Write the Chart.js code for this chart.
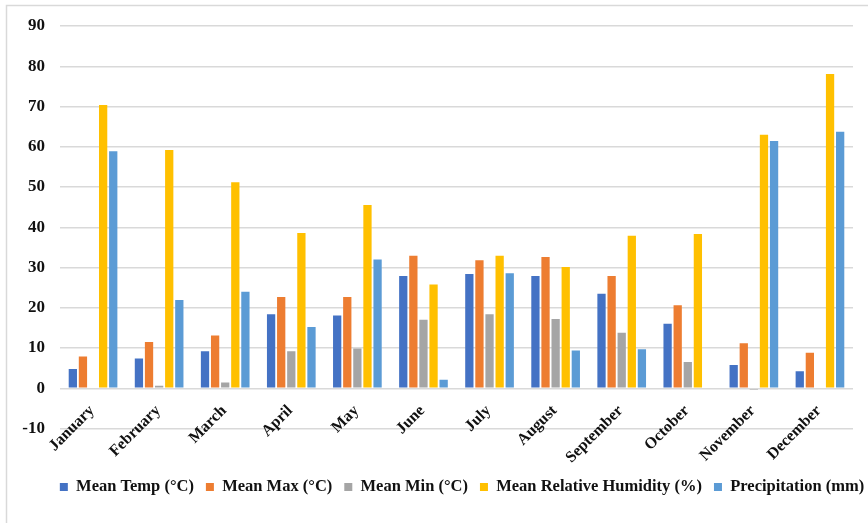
<!DOCTYPE html>
<html>
<head>
<meta charset="utf-8">
<title>Monthly climate</title>
<script src="https://cdn.jsdelivr.net/npm/chart.js@4/dist/chart.umd.min.js"></script>
<style>
  html, body { margin: 0; padding: 0; background: #fff; overflow: hidden; }
  #wrap { width: 924px; height: 523px; }
</style>
</head>
<body>
<div id="wrap"><canvas id="chart" width="924" height="523"></canvas></div>
<script>
// Month names along the category axis
const months = ['January', 'February', 'March', 'April', 'May', 'June',
                'July', 'August', 'September', 'October', 'November', 'December'];

// Temperature series (°C)
const meanTemp = [4.8, 7.4, 9.2, 18.4, 18.1, 27.9, 28.4, 27.9, 23.5, 16.0, 5.8, 4.2];
const meanMax  = [7.9, 11.5, 13.1, 22.7, 22.7, 32.9, 31.8, 32.6, 27.9, 20.6, 11.2, 8.8];
const meanMin  = [0, 0.6, 1.4, 9.2, 9.9, 17.0, 18.4, 17.2, 13.8, 6.5, -0.3, 0];

// Humidity (%) and rainfall (mm)
const humidity = [70.4, 59.2, 51.2, 38.6, 45.5, 25.8, 32.9, 30.1, 37.9, 38.3, 63.0, 78.1];
const precip   = [58.9, 21.9, 24.0, 15.2, 32.0, 2.1, 28.6, 9.4, 9.7, 0, 61.4, 63.7];

// Value axis
const yMin = -10, yMax = 90, yStep = 10;

const seriesNames = ['Mean Temp (°C)', 'Mean Max (°C)', 'Mean Min (°C)',
                     'Mean Relative Humidity (%)', 'Precipitation (mm)'];
const seriesColors = ['#4472C4', '#ED7D31', '#A5A5A5', '#FFC000', '#5B9BD5'];
const seriesData = [meanTemp, meanMax, meanMin, humidity, precip];

const serif = "'Liberation Serif', 'Times New Roman', serif";

// Light frame around the whole chart
const framePlugin = {
  id: 'frame',
  beforeDraw(chart) {
    const ctx = chart.ctx;
    ctx.save();
    ctx.strokeStyle = '#d9d9d9';
    ctx.lineWidth = 1.5;
    ctx.beginPath();
    ctx.moveTo(6.5, chart.height + 2);
    ctx.lineTo(6.5, 5.5);
    ctx.lineTo(chart.width + 2, 5.5);
    ctx.stroke();
    ctx.restore();
  }
};

// Month labels sit just under the zero line, slanted at 45°
const monthLabelPlugin = {
  id: 'monthLabels',
  afterDatasetsDraw(chart) {
    const ctx = chart.ctx;
    const xs = chart.scales.x;
    const y0 = chart.scales.y.getPixelForValue(0);
    ctx.save();
    ctx.font = 'bold 16px ' + serif;
    ctx.fillStyle = '#111';
    ctx.textAlign = 'right';
    ctx.textBaseline = 'middle';
    months.forEach((m, i) => {
      const x = xs.getPixelForValue(i);
      ctx.save();
      ctx.translate(x - 1, y0 + 20);
      ctx.rotate(-Math.PI / 4);
      ctx.fillText(m, 0, 0);
      ctx.restore();
    });
    ctx.restore();
  }
};

new Chart(document.getElementById('chart'), {
  type: 'bar',
  data: {
    labels: months,
    datasets: seriesData.map((d, i) => ({
      label: seriesNames[i],
      data: d,
      backgroundColor: seriesColors[i],
      borderWidth: 0,
      categoryPercentage: 0.764,
      barPercentage: 0.82
    }))
  },
  options: {
    responsive: false,
    animation: false,
    devicePixelRatio: 1,
    layout: { padding: { top: 26, left: 0, right: 0, bottom: 17.75 } },
    plugins: {
      legend: {
        position: 'bottom',
        labels: {
          boxWidth: 8,
          boxHeight: 8,
          padding: 12,
          color: '#111',
          font: { family: serif, size: 16.5, weight: 'bold' }
        }
      },
      tooltip: { enabled: false }
    },
    scales: {
      x: {
        display: true,
        grid: { display: false },
        border: { display: false },
        ticks: { display: false },
        afterFit(s) { s.height = 38.25; }
      },
      y: {
        position: 'left',
        min: yMin,
        max: yMax,
        grid: { color: '#d9d9d9', lineWidth: 1.4, drawTicks: false },
        border: { display: false },
        ticks: {
          stepSize: yStep,
          padding: 15,
          color: '#111',
          font: { family: serif, size: 17, weight: 'bold' }
        },
        afterFit(s) { s.width = 60; }
      },
      yR: {
        type: 'linear',
        position: 'right',
        display: true,
        grid: { display: false },
        border: { display: false },
        ticks: { display: false },
        afterFit(s) { s.width = 71; }
      }
    }
  },
  plugins: [framePlugin, monthLabelPlugin]
});
</script>
</body>
</html>
